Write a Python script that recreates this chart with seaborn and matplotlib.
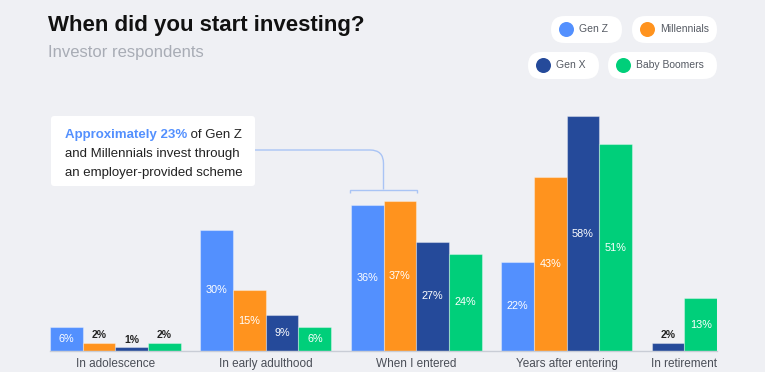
import pandas as pd
import seaborn as sns
import matplotlib.pyplot as plt
from matplotlib.patches import FancyBboxPatch, Circle, PathPatch
from matplotlib.path import Path
from matplotlib.transforms import Affine2D

stages = ["In adolescence", "In early adulthood", "When I entered",
          "Years after entering", "In retirement"]
generations = ["Gen Z", "Millennials", "Gen X", "Baby Boomers"]
gen_z = [6, 30, 36, 22, None]
millennials = [2, 15, 37, 43, None]
gen_x = [1, 9, 27, 58, 2]
boomers = [2, 6, 24, 51, 13]
colors = ["#5390fe", "#ff931e", "#254a9a", "#00cf7a"]

bg = "#eff0f4"
values = dict(zip(generations, [gen_z, millennials, gen_x, boomers]))

# lay bars side by side, groups separated by a small gap
rows = []
centers = []
pos = 0.0
for i, stage in enumerate(stages):
    start = pos
    for g in generations:
        v = values[g][i]
        if v is None:
            continue
        rows.append({"stage": stage, "gen": g, "pct": v, "pos": round(pos, 2)})
        pos += 1
    centers.append((start + pos - 1) / 2)
    pos += 0.6
df = pd.DataFrame(rows)

sns.set_theme(style="white")
plt.rcParams["font.family"] = ["Liberation Sans", "DejaVu Sans"]

fig = plt.figure(figsize=(7.65, 3.72), dpi=100, facecolor=bg)
ax = fig.add_axes([50 / 765, 21 / 372, 667 / 765, 243 / 372])
ax.set_facecolor(bg)

sns.barplot(data=df, x="pos", y="pct", hue="gen", hue_order=generations,
            palette=colors, saturation=1, native_scale=True, width=1, dodge=False,
            edgecolor=(1, 1, 1, 0.35), linewidth=0.8, legend=False, ax=ax)

for _, r in df.iterrows():
    if r.pct < 5:
        ax.text(r.pos, r.pct + 0.6, f"{r.pct:.0f}%", ha="center", va="bottom",
                fontsize=7.5, color="#222222", fontweight="bold")
    else:
        ax.text(r.pos, r.pct / 2, f"{r.pct:.0f}%", ha="center", va="center",
                fontsize=7.8, color="white")

ax.set_xlim(-0.5, pos - 0.6 - 0.5)
ax.set_ylim(0, 60)
ax.set_xticks(centers, stages)
ax.set_yticks([])
ax.set_xlabel("")
ax.set_ylabel("")
ax.tick_params(axis="x", length=0, pad=5, labelsize=8.5, labelcolor="#4a4e57")
for s in ["top", "left", "right"]:
    ax.spines[s].set_visible(False)
ax.spines["bottom"].set_color("#c9cdd6")
ax.spines["bottom"].set_linewidth(1)

# pixel coordinates (origin bottom-left) for the decorations
px = Affine2D().scale(1 / 765, 1 / 372) + fig.transFigure
H = 372

fig.text(48, H - 26, "When did you start investing?", transform=px,
         fontsize=16, fontweight="bold", color="#111111", va="center")
fig.text(48, H - 52, "Investor respondents", transform=px,
         fontsize=12, color="#a8acb5", va="center")

# legend pills
pills = [("Gen Z", 551, 622, 29.5), ("Millennials", 632, 717, 29.5),
         ("Gen X", 528, 599, 65.5), ("Baby Boomers", 608, 717, 65.5)]
for (name, x0, x1, yc), c in zip(pills, colors):
    fig.patches.append(FancyBboxPatch((x0, H - yc - 13.5), x1 - x0, 27,
                                      boxstyle="round,pad=0,rounding_size=13.5",
                                      fc="white", ec="none", transform=px))
    fig.patches.append(Circle((x0 + 15.5, H - yc), 7.5, fc=c, ec="none", transform=px))
    fig.text(x0 + 28, H - yc, name, transform=px, fontsize=7.5,
             color="#555a63", va="center")

# callout box
fig.patches.append(FancyBboxPatch((51, H - 186), 204, 70,
                                  boxstyle="round,pad=0,rounding_size=3",
                                  fc="white", ec="none", transform=px))
t1 = fig.text(65, H - 135, "Approximately 23%", transform=px, fontsize=9.5,
              color="#5390fe", fontweight="bold", va="center")
fig.add_artist(plt.Annotation(" of Gen Z", xy=(1, 0), xycoords=t1, va="bottom",
                              ha="left", fontsize=9.5, color="#222222"))
fig.text(65, H - 154, "and Millennials invest through", transform=px,
         fontsize=9.5, color="#222222", va="center")
fig.text(65, H - 173, "an employer-provided scheme", transform=px,
         fontsize=9.5, color="#222222", va="center")

line_c = "#a9c4f5"
conn = Path([(255, H - 150), (370, H - 150), (383.5, H - 150), (383.5, H - 163.5),
             (383.5, H - 189.5)],
            [Path.MOVETO, Path.LINETO, Path.CURVE3, Path.CURVE3, Path.LINETO])
fig.patches.append(PathPatch(conn, fc="none", ec=line_c, lw=1, transform=px))
bracket = Path([(350, H - 193), (350, H - 189.5), (417, H - 189.5), (417, H - 193)])
fig.patches.append(PathPatch(bracket, fc="none", ec=line_c, lw=1, transform=px))

fig.savefig("out.png", dpi=100, facecolor=bg)
